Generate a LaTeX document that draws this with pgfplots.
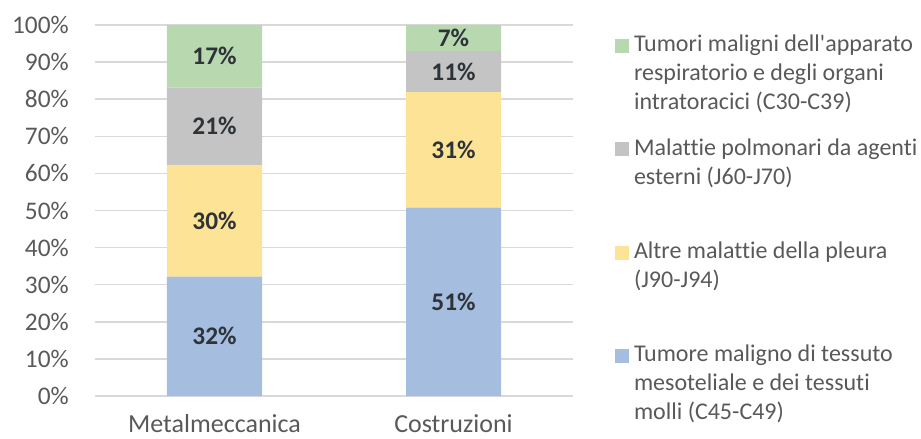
\documentclass[border=0pt]{standalone}
\usepackage{pgfplots}
\pgfplotsset{compat=1.18}
\usepackage{pgfplotstable}
\usepackage{fontspec}
\setmainfont{Carlito}[Ligatures={TeX,NoCommon}]
\definecolor{cblue}{HTML}{A5BDDF}
\definecolor{cyellow}{HTML}{FDE395}
\definecolor{cgray}{HTML}{C4C4C4}
\definecolor{cgreen}{HTML}{B8D9B0}
\definecolor{tickgray}{HTML}{595959}
\definecolor{gridgray}{HTML}{D9D9D9}
\definecolor{labdark}{HTML}{2E3338}

\pgfplotstableread{
x blue yellow gray green
0 32.2 30.1 20.8 16.9
1 50.8 31.1 11.1 7.0
}\datatable

\pgfplotstableread{
x y v
0 16.1 32
0 47.25 30
0 72.7 21
0 91.55 17
1 25.4 51
1 66.35 31
1 87.45 11
1 96.5 7
}\labeltable

\pgfplotsset{
  mylegend/.style={legend image code/.code={\fill[##1] (0pt,22.6pt) rectangle (10.5pt,33.1pt);}},
  common/.style={
    width=358.5pt, height=278.25pt, scale only axis,
    xmin=-0.5, xmax=1.5, ymin=0, ymax=100,
  },
}
\newcommand{\legtxt}[1]{\parbox[c][77.4pt][t]{225pt}{\raggedright\fontsize{18}{21.75}\selectfont\strut #1}}

\begin{document}
\begin{tikzpicture}
\useasboundingbox (-71.25pt,-32.25pt) rectangle (619.5pt,297pt);
\begin{axis}[
  common,
  ybar stacked,
  bar width=71.25pt,
  axis line style={draw=none},
  major tick length=0pt,
  ymajorgrids,
  grid style={gridgray, line width=1.1pt},
  ytick={0,10,...,100},
  yticklabel={\pgfmathprintnumber{\tick}\%},
  /pgf/number format/assume math mode=true,
  yticklabel style={anchor=east, inner sep=0pt, xshift=-19.5pt, font=\fontsize{19}{22.8}\selectfont, text=tickgray},
  xtick={0,1},
  xticklabels={Metalmeccanica, Costruzioni},
  xticklabel style={anchor=base, inner sep=0pt, yshift=-27.2pt, font=\fontsize{19.5}{23}\selectfont, text=tickgray},
  reverse legend,
  legend cell align=left,
  legend style={at={(1.0879,0.982)}, anchor=north west, draw=none, fill=none,
    inner sep=0pt, outer sep=0pt, row sep=0pt, column sep=3.75pt,
    nodes={inner sep=0pt, text depth=, text=tickgray}},
]
\addplot[fill=cblue, draw=none, mylegend] table[x=x, y=blue]{\datatable};
\addlegendentry{\legtxt{Tumore maligno di tessuto\\mesoteliale e dei tessuti\\molli (C45-C49)}}
\addplot[fill=cyellow, draw=none, mylegend] table[x=x, y=yellow]{\datatable};
\addlegendentry{\legtxt{Altre malattie della pleura\\(J90-J94)}}
\addplot[fill=cgray, draw=none, mylegend] table[x=x, y=gray]{\datatable};
\addlegendentry{\legtxt{Malattie polmonari da agenti\\esterni (J60-J70)}}
\addplot[fill=cgreen, draw=none, mylegend] table[x=x, y=green]{\datatable};
\addlegendentry{\legtxt{Tumori maligni dell\textquotesingle apparato\\respiratorio e degli organi\\intratoracici (C30-C39)}}
\end{axis}
\begin{axis}[
  common,
  hide axis,
  /pgf/number format/assume math mode=true,
  nodes near coords={\pgfmathprintnumber[fixed,precision=0]{\pgfplotspointmeta}\%},
  point meta=explicit,
  every node near coord/.append style={anchor=center, inner sep=0pt, text=labdark, font=\fontsize{19}{22.8}\selectfont\bfseries},
]
\addplot[draw=none, mark=none] table[x=x, y=y, meta=v]{\labeltable};
\end{axis}
\end{tikzpicture}
\end{document}
